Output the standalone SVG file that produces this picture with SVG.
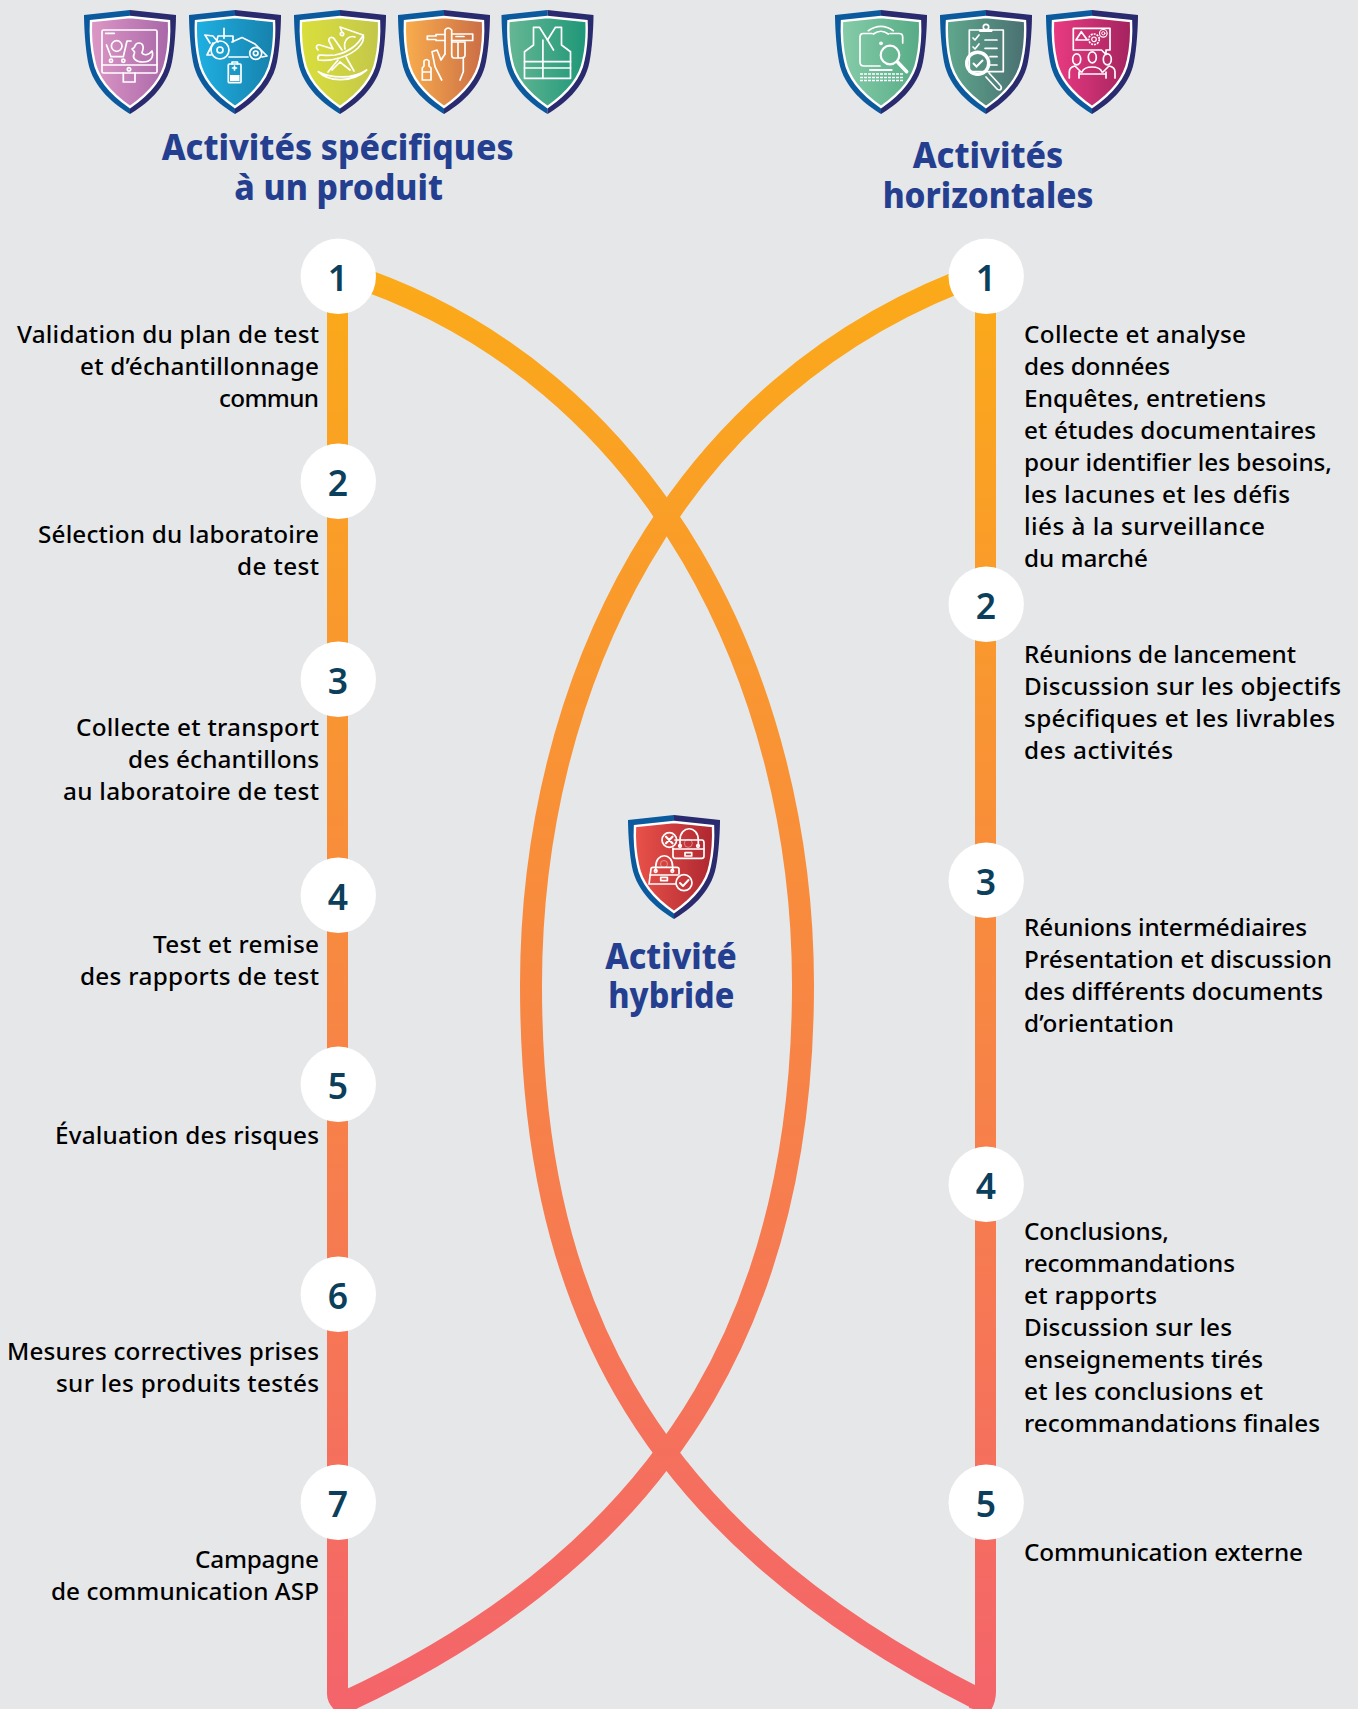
<svg xmlns="http://www.w3.org/2000/svg" width="1358" height="1709" viewBox="0 0 1358 1709">
<style>
text{font-family:"Noto Sans","Open Sans","Liberation Sans",sans-serif}
.t{font-size:35.5px;font-weight:800;fill:#243f8f;text-anchor:middle}
.b{font-size:24.3px;font-weight:500;fill:#000}
.l{text-anchor:end}
.n{font-size:35.5px;font-weight:600;fill:#0b3f5c;text-anchor:middle}
.c{fill:#fff}
.i{fill:none;stroke:#fff;stroke-width:1.7;stroke-linecap:round;stroke-linejoin:round}
.w{fill:#fff;stroke:none}
.f{fill:none;stroke:#fff;stroke-opacity:.4;stroke-width:1}
.curve{fill:none;stroke:url(#flow);stroke-width:22}
.in{stroke:#fff;stroke-width:2.4}
</style>
<defs>
<linearGradient id="flow" gradientUnits="userSpaceOnUse" x1="0" y1="277" x2="0" y2="1705"><stop offset="0" stop-color="#fbaa19"/><stop offset="1" stop-color="#f4646b"/></linearGradient>
<linearGradient id="g1" x1="0" x2="1" y1="0" y2="0"><stop offset="0" stop-color="#dd97c6"/><stop offset="1" stop-color="#a867a8"/></linearGradient>
<linearGradient id="g2" x1="0" x2="1" y1="0" y2="0"><stop offset="0" stop-color="#1fb0e2"/><stop offset="1" stop-color="#1681ac"/></linearGradient>
<linearGradient id="g3" x1="0" x2="1" y1="0" y2="0"><stop offset="0" stop-color="#dadf3c"/><stop offset="1" stop-color="#c3c74a"/></linearGradient>
<linearGradient id="g4" x1="0" x2="1" y1="0" y2="0"><stop offset="0" stop-color="#f9ad4d"/><stop offset="1" stop-color="#cb6e46"/></linearGradient>
<linearGradient id="g5" x1="0" x2="1" y1="0" y2="0"><stop offset="0" stop-color="#66b794"/><stop offset="1" stop-color="#1e9778"/></linearGradient>
<linearGradient id="g6" x1="0" x2="1" y1="0" y2="0"><stop offset="0" stop-color="#86cca9"/><stop offset="1" stop-color="#57ab86"/></linearGradient>
<linearGradient id="g7" x1="0" x2="1" y1="0" y2="0"><stop offset="0" stop-color="#5fa78c"/><stop offset="1" stop-color="#4a7072"/></linearGradient>
<linearGradient id="g8" x1="0" x2="1" y1="0" y2="0"><stop offset="0" stop-color="#ea3b82"/><stop offset="1" stop-color="#a3235e"/></linearGradient>
<linearGradient id="g9" x1="0" x2="1" y1="0" y2="0"><stop offset="0" stop-color="#ea524a"/><stop offset="1" stop-color="#ae2730"/></linearGradient>
<g id="rim">
<path fill="#0b5a9e" d="M0 0L-46 5C-46 5-46 30-42 52C-37 78-15 95 0 104Z"/>
<path fill="#2a2a6e" d="M0 0L46 5C46 5 46 30 42 52C37 78 15 95 0 104Z"/>
</g>
<path id="inner" d="M0 7L39 11C39 11 40 32 36 50C32 72 13 88 0 97C-13 88-32 72-36 50C-40 32-39 11-39 11Z"/>
</defs>
<rect width="1358" height="1709" fill="#e6e7e9"/>

<g id="connectors">
<path class="curve" d="M345 273C660 375 803 690 803 985C803 1285 692 1541 345 1702"/>
<path class="curve" d="M985 272C670 382 531 690 531 985C531 1285 630 1524 980 1700"/>
<path fill="url(#flow)" d="M327 277H348V1689L358 1708L340 1715Q327 1705 327 1694Z"/>
<path fill="url(#flow)" d="M975 277H996V1692Q996 1702 990 1712L969 1708L975 1685Z"/>
</g>

<g id="shield-1" transform="translate(130 10)"><use href="#rim"/><use href="#inner" fill="url(#g1)" class="in"/>
<g class="i"><rect x="-28" y="20" width="55" height="43" rx="1.500"/><path d="M-28 55H27M-24.300 23.300H-15.700M-6.700 63V72H5V63"/><circle cx="-1" cy="59.300" r="1.700"/><circle cx="-13.300" cy="36" r="5.300"/><path d="M-23.500 35L-19 46.700H-6.700L-3 31H1"/><circle cx="-19" cy="50.700" r="1.600"/><circle cx="-6.700" cy="50.700" r="1.600"/><path d="M2 39C4 38 5 37 5 36C6 32 12 32 13 36C14 39 12 41 12 43C14 46 19 45 22 41C24 47 21 52 13 52C6 52 2 48 4 44.500C5 42 5 42 2 39Z"/></g></g>

<g id="shield-2" transform="translate(235 10)"><use href="#rim"/><use href="#inner" fill="url(#g2)" class="in"/>
<g class="i"><circle cx="-15" cy="40" r="9"/><circle cx="-15" cy="40" r="3"/><circle cx="20.700" cy="43.300" r="6"/><circle cx="20.700" cy="43.300" r="2.300"/><path d="M-11 18.300V28.300M-18 30L-17 26H-2V32M-3 32L7 27.500L20 34L32 46L27 47M-6 47H13M-30 25L-22 26L-17 32M-30 25L-25 33M-22 33L-28 45H-24"/><rect x="-6.700" y="54" width="12.700" height="18.700" rx="1"/><path d="M-3 54V52H2.500V54M-2.500 58H1.500M-.500 56V60"/><rect class="w" x="-5" y="65" width="9.500" height="6"/></g></g>

<g id="shield-3" transform="translate(340 10)"><use href="#rim"/><use href="#inner" fill="url(#g3)" class="in"/>
<g class="i"><path d="M-21.700 61.700C-10 68 12 70 26.700 60C12 73-12 72-21.700 61.700Z"/><path d="M-2 50L-12 62M6 47L14 61M-8 60L0 52L10 60"/><path d="M-21.700 50C-8 52 10 46 18 38C23 33 24 28 23.300 25C18 35 10 42-5 45C-12 46-18 45-20.700 45Q-23 47-21.700 50Z"/><path d="M-22 40C-25 37-23 34-20 35L-7 39L-11 31C-12 27-7 26-5 30L2 40"/><path d="M5 39C3 30 9 25 15 27"/><path d="M0 17L23 25M0 17L2 22"/><circle cx="2" cy="24" r="1.700"/></g></g>

<g id="shield-4" transform="translate(444 10)"><use href="#rim"/><use href="#inner" fill="url(#g4)" class="in"/>
<g class="i"><path d="M1 24.500H-8V26H-16.700V29.500H-8V30.500H1M7.700 24H28.700V30.500H7.700M12 26.500H20"/><path d="M1 44V20Q4 16 7.700 20V32"/><path d="M7.700 32H21V45Q21 48 17 48H10Q7.700 48 7.700 45ZM14 32V48"/><path d="M1 44L-3 50L-7 40L-12 41.700L-9 56.700L-2.300 70M19.300 48V61.700L16 70"/><path d="M-21.700 70V58L-20 56V51Q-17.500 48-15 51V56L-13 58V70ZM-21.700 62H-13"/></g></g>

<g id="shield-5" transform="translate(547.500 10)"><use href="#rim"/><use href="#inner" fill="url(#g5)" class="in"/>
<g class="i"><path d="M-14 17.300H-8L0 30L8 17.300H14V35L23 41.700V68.300H-23V41.700L-14 35Z"/><path d="M-4.600 30V68.300M-23 51.700H23M-23 58H23M0 30L6 40"/></g></g>

<g id="shield-6" transform="translate(881 10)"><use href="#rim"/><use href="#inner" fill="url(#g6)" class="in"/>
<g class="i"><path d="M-12.700 20.700Q0 12 12.300 20.700M-7.700 24Q0 18.500 7.300 24"/><circle class="w" cx="0" cy="33.300" r="1.900"/><path d="M-9 23.500H-18Q-21 23.500-21 27V52Q-21 56-17 56H-1M9 23.500H18Q21.700 23.500 21.700 27V33"/><path d="M-11 60H10.700" stroke-width="2"/><path d="M-21 64H22M-21 67.500H22M-21 70.500H22" stroke-linecap="butt" stroke-dasharray="3 1"/></g><circle cx="9" cy="45" r="9.300" fill="none" stroke="#fff" stroke-width="2.200"/><path d="M16.300 51.700L25.700 61.700" fill="none" stroke="#fff" stroke-width="3.500" stroke-linecap="round"/></g>

<g id="shield-7" transform="translate(986 10)"><use href="#rim"/><use href="#inner" fill="url(#g7)" class="in"/>
<g class="i"><path d="M-6 20H-16.700V61.700H17.300V20H6"/><circle cx="0" cy="17" r="2.700"/><rect class="w" x="-7" y="19" width="13.500" height="3" rx="1"/><path d="M-13 28L-11 30L-7 25M-1 30H11M-13 37L-11 39L-7 34M-1 38.300H11M4 46.700H11M4 55H11"/><path d="M0 67L11 79Q14 81 15 79Q16 77 14 75L3 63"/></g><circle cx="-8.300" cy="53.300" r="11" fill="none" stroke="#fff" stroke-width="3.400"/><path d="M-13 53L-9.500 56.500L-3 50" fill="none" stroke="#fff" stroke-width="2"/></g>

<g id="shield-8" transform="translate(1092 10)"><use href="#rim"/><use href="#inner" fill="url(#g8)" class="in"/>
<g class="i"><path d="M-18.700 18.300H18V40H14V44.500L9.500 40H-18.700Z"/><path d="M-16 30L-10.700 21.700L-4.700 30Z"/><circle cx="2" cy="29.300" r="5.300" stroke-dasharray="2 1" stroke-linecap="butt"/><circle cx="2" cy="29.300" r="2.300" stroke-width="1.200"/><circle cx="11.300" cy="23.300" r="3.800" stroke-width="1.200"/><circle cx="11.300" cy="23.300" r="1.600" stroke-width="1"/><ellipse cx="-15.300" cy="49.300" rx="4" ry="5.500"/><ellipse cx=".300" cy="47.300" rx="4" ry="5.500"/><ellipse cx="15.300" cy="49.300" rx="4" ry="5.500"/><path d="M-22.700 68V62Q-22.700 57-17 56L-11 62M23 68V62Q23 57 17 56L11 62M-10 62Q-8 57 0 57Q8 57 10 62M-13 64H14M-13 62V68M14 62V68"/></g></g>

<g id="shield-9" transform="translate(674 815)"><use href="#rim"/><use href="#inner" fill="url(#g9)" class="in"/>
<g class="i"><circle cx="-4.700" cy="25" r="7.300"/><path d="M-8 21.700L-1.500 28.300M-1.500 21.700L-8 28.300" stroke-width="2.200"/><path d="M1 25H28Q30 25 30 28V41Q30 43.300 28 43.300H1Q-1 43.300-1 41V33"/><path d="M6 30V25C6 10 24.300 10 24.300 25V30M-1 34H30"/><circle cx="6" cy="31" r="1.300"/><circle cx="24" cy="31" r="1.300"/><rect x="11" y="37.700" width="6.700" height="3.300"/><path d="M-21 52.300H3Q5 52.300 5 54V59M-21 52.300Q-23 52.300-23 54L-25 69H2"/><path d="M-18.300 55V52C-18.300 37-1.300 37-1.300 52V55M-24 60H4"/><circle cx="-18.300" cy="56" r="1.300"/><circle cx="-1.700" cy="56" r="1.300"/><rect x="-13.300" y="62.300" width="6.700" height="3.300"/><circle cx="10" cy="67.700" r="8"/><path d="M6 68L9 71L14.500 65" stroke-width="2"/></g><circle class="f" cx="14.300" cy="28.300" r="4"/><circle class="f" cx="-10" cy="49" r="3.500"/></g>

<g id="title-products"><text class="t" x="337.700" y="159.500" textLength="352" lengthAdjust="spacingAndGlyphs">Activités spécifiques</text><text class="t" x="338.600" y="199.500" textLength="208.600" lengthAdjust="spacingAndGlyphs">à un produit</text></g>
<g id="title-horizontal"><text class="t" x="988" y="167.500" textLength="150.700" lengthAdjust="spacingAndGlyphs">Activités</text><text class="t" x="988" y="207.500" textLength="210.700" lengthAdjust="spacingAndGlyphs">horizontales</text></g>
<g id="title-hybrid"><text class="t" x="671" y="968.500" textLength="131.700" lengthAdjust="spacingAndGlyphs">Activité</text><text class="t" x="671.300" y="1008" textLength="126" lengthAdjust="spacingAndGlyphs">hybride</text></g>

<g id="left-1"><circle class="c" cx="338.300" cy="276.300" r="37.700"/><text class="n" x="338" y="291">1</text><text class="b l" x="319" y="343" textLength="302">Validation du plan de test</text><text class="b l" x="319" y="375" textLength="239">et d’échantillonnage</text><text class="b l" x="319" y="407" textLength="100">commun</text></g>
<g id="left-2"><circle class="c" cx="338.300" cy="481.300" r="37.700"/><text class="n" x="338" y="496">2</text><text class="b l" x="319" y="543" textLength="281">Sélection du laboratoire</text><text class="b l" x="319" y="575" textLength="82">de test</text></g>
<g id="left-3"><circle class="c" cx="338.300" cy="679.300" r="37.700"/><text class="n" x="338" y="694">3</text><text class="b l" x="319" y="736" textLength="243">Collecte et transport</text><text class="b l" x="319" y="768" textLength="191">des échantillons</text><text class="b l" x="319" y="800" textLength="256">au laboratoire de test</text></g>
<g id="left-4"><circle class="c" cx="338.300" cy="895.300" r="37.700"/><text class="n" x="338" y="910">4</text><text class="b l" x="319" y="953" textLength="166">Test et remise</text><text class="b l" x="319" y="985" textLength="239">des rapports de test</text></g>
<g id="left-5"><circle class="c" cx="338.300" cy="1084.300" r="37.700"/><text class="n" x="338" y="1099">5</text><text class="b l" x="319" y="1144" textLength="264">Évaluation des risques</text></g>
<g id="left-6"><circle class="c" cx="338.300" cy="1294.300" r="37.700"/><text class="n" x="338" y="1309">6</text><text class="b l" x="319" y="1360" textLength="312">Mesures correctives prises</text><text class="b l" x="319" y="1392" textLength="263">sur les produits testés</text></g>
<g id="left-7"><circle class="c" cx="338.300" cy="1502.300" r="37.700"/><text class="n" x="338" y="1517">7</text><text class="b l" x="319" y="1568" textLength="124">Campagne</text><text class="b l" x="319" y="1600" textLength="268">de communication ASP</text></g>

<g id="right-1"><circle class="c" cx="986.200" cy="276.300" r="37.700"/><text class="n" x="986" y="291">1</text><text class="b" x="1024" y="343" textLength="222">Collecte et analyse</text><text class="b" x="1024" y="375" textLength="146">des données</text><text class="b" x="1024" y="407" textLength="242">Enquêtes, entretiens</text><text class="b" x="1024" y="439" textLength="292">et études documentaires</text><text class="b" x="1024" y="471" textLength="308">pour identifier les besoins,</text><text class="b" x="1024" y="503" textLength="266">les lacunes et les défis</text><text class="b" x="1024" y="535" textLength="241">liés à la surveillance</text><text class="b" x="1024" y="567" textLength="124">du marché</text></g>
<g id="right-2"><circle class="c" cx="986.200" cy="604.300" r="37.700"/><text class="n" x="986" y="619">2</text><text class="b" x="1024" y="663" textLength="272">Réunions de lancement</text><text class="b" x="1024" y="695" textLength="317">Discussion sur les objectifs</text><text class="b" x="1024" y="727" textLength="311">spécifiques et les livrables</text><text class="b" x="1024" y="759" textLength="149">des activités</text></g>
<g id="right-3"><circle class="c" cx="986.200" cy="880.300" r="37.700"/><text class="n" x="986" y="895">3</text><text class="b" x="1024" y="936" textLength="283">Réunions intermédiaires</text><text class="b" x="1024" y="968" textLength="308">Présentation et discussion</text><text class="b" x="1024" y="1000" textLength="299">des différents documents</text><text class="b" x="1024" y="1032" textLength="150">d’orientation</text></g>
<g id="right-4"><circle class="c" cx="986.200" cy="1184.300" r="37.700"/><text class="n" x="986" y="1199">4</text><text class="b" x="1024" y="1240" textLength="145">Conclusions,</text><text class="b" x="1024" y="1272" textLength="211">recommandations</text><text class="b" x="1024" y="1304" textLength="133">et rapports</text><text class="b" x="1024" y="1336" textLength="208">Discussion sur les</text><text class="b" x="1024" y="1368" textLength="239">enseignements tirés</text><text class="b" x="1024" y="1400" textLength="239">et les conclusions et</text><text class="b" x="1024" y="1432" textLength="296">recommandations finales</text></g>
<g id="right-5"><circle class="c" cx="986.200" cy="1502.300" r="37.700"/><text class="n" x="986" y="1517">5</text><text class="b" x="1024" y="1561" textLength="279">Communication externe</text></g>
</svg>
